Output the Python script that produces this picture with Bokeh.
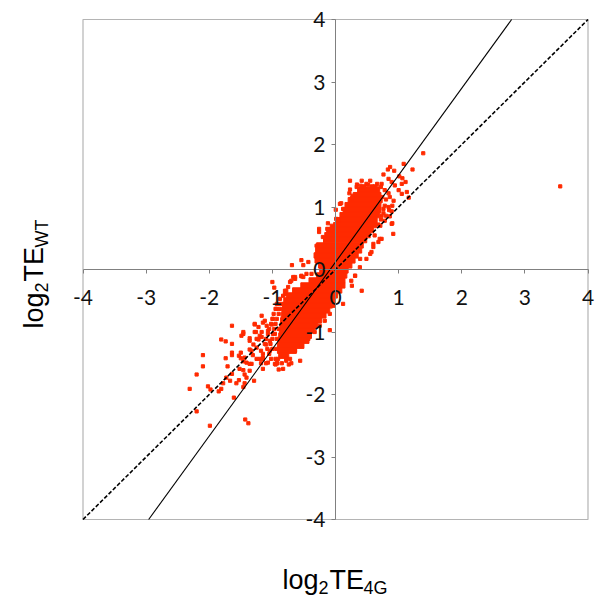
from bokeh.plotting import figure
from bokeh.models import Label, FixedTicker
from bokeh.embed import file_html
from bokeh.resources import INLINE
import math

tick_values = [-4, -3, -2, -1, 0, 1, 2, 3, 4]
tick_labels = ["-4", "-3", "-2", "-1", "0", "1", "2", "3", "4"]
fit_x = [-2.96, 2.79]
fit_y = [-4.0, 4.0]
unity_x = [-4.0, 4.0]
unity_y = [-4.0, 4.0]

# dense body of the cloud, one band per row: log2TE_WT, and its log2TE_4G extent
core_y = [1.27, 1.19, 1.11, 1.03, 0.95, 0.87, 0.79, 0.71, 0.63, 0.55, 0.47, 0.385,
          0.305, 0.225, 0.145, 0.065, -0.015, -0.095, -0.175, -0.255, -0.335,
          -0.415, -0.495, -0.575, -0.655, -0.735, -0.815, -0.895, -0.975, -1.06,
          -1.14, -1.22, -1.30, -1.38]
core_lo = [0.35, 0.28, 0.20, 0.15, 0.12, 0.07, 0.02, -0.03, -0.14, -0.17, -0.19, -0.30,
           -0.315, -0.34, -0.325, -0.27, -0.25, -0.30, -0.42, -0.55, -0.68,
           -0.78, -0.82, -0.84, -0.85, -0.86, -0.87, -0.88, -0.89, -0.90,
           -0.91, -0.92, -0.92, -0.90]
core_hi = [0.70, 0.72, 0.74, 0.72, 0.72, 0.70, 0.66, 0.65, 0.60, 0.55, 0.495, 0.44,
           0.415, 0.36, 0.31, 0.26, 0.20, 0.18, 0.15, 0.15, 0.10,
           0.03, -0.01, -0.05, -0.09, -0.15, -0.22, -0.28, -0.33, -0.38,
           -0.42, -0.50, -0.62, -0.74]

# individually readable points: log2TE_4G, log2TE_WT
point_x = [3.56, 1.39, 1.08, 1.22, 0.865, 0.93, 0.83, 0.76, 1.01, 1.06, 1.11, 1.05,
           0.23, 0.415, 0.55, 0.49, 0.335, 0.44, 0.23, 0.66, 0.73, 1.13, 1.16, 1.05,
           1.0, 0.94, 0.89, 0.84, 0.92, 0.84, 0.89, 0.76, 0.73, 0.90, 0.09, 0.27,
           0.12, 0.71, 0.70, 0.60, 0.55, 0.39, 0.415, 0.12, 0.26, 0.31, 0.01, -0.26,
           -0.26, -0.54, -0.69, -0.51, -0.43, -0.64, -0.54, -0.09,
           -1.00, -0.97, -1.17, -1.28, -1.15, -1.28, -1.2, -1.46, -1.33, -1.25, -1.33,
           -0.83, -0.91, -0.96, -0.78, -1.07, -0.99, -0.99, -1.04, -1.04, -1.15, -1.2,
           -1.36, -1.44, -0.93, -0.83, -0.78, -0.67, -0.51, -0.72, -0.80,
           -1.64, -1.81, -1.74, -1.64, -1.46, -1.49, -1.36, -2.10, -2.10, -2.20, -2.31,
           -2.20, -1.99, -1.74, -1.71, -1.64, -1.64, -1.50, -1.53, -1.50, -1.31, -1.46,
           -1.41, -1.36, -1.52, -1.46, -1.64, -1.73, -1.67, -1.78, -2.02, -1.98, -1.81,
           -1.85, -1.53, -1.57, -1.44, -1.41, -1.44, -1.46, -1.29, -1.61, -1.43, -1.38,
           -1.36, -1.15, -1.07, -0.93, -1.25, -1.28, -1.22, -1.17, -1.09, -1.01, -1.17,
           -1.26,
           -0.12, -0.13, -0.01, -0.06, 0.005, 0.07, 0.04, -0.20, -0.30, 0.62, 0.73, 0.68,
           0.60, 0.57, 0.49, 0.386, 0.31, 0.25, 0.89, 0.915,
           -0.56, -0.64, -0.54, -0.43, -0.33, -0.25, -0.17, -0.09, -0.03,
           -0.93, -0.88, -0.80, -0.75, -0.70, -0.64, -0.54, -0.46, -0.38,
           -1.12, -1.10, -1.18, -1.22, -1.30, -1.36, -0.95, -0.90, -0.74, -0.70,
           -0.90, -0.85, -0.95, -0.88, -0.98, -0.90, -1.00, -0.93, -1.02, -0.95, -1.05,
           -0.97, -0.90, -1.07, -0.96, -1.10, -1.00, -0.93, -1.12, -1.03, -1.08, -1.00,
           -0.94, -1.15, -1.05, -1.25, -1.15, -1.02, -0.95, -0.78, -0.72, -1.18, -1.10,
           -0.85, -0.92,
           0.78, 0.84, 0.74, 0.80, 0.86, 0.90, 0.78, 0.85, 0.76, 0.80, 0.86, 0.72, 0.78,
           0.68, 0.62, 0.58, 0.34, 0.40, 0.46, 0.52, 0.58, 0.66, 0.72, 0.22, 0.26]
point_y = [1.33, 1.86, 1.69, 1.60, 1.64, 1.58, 1.60, 1.52, 1.49, 1.46, 1.40, 1.37,
           1.42, 1.42, 1.42, 1.37, 1.32, 1.32, 1.28, 1.37, 1.37, 1.24, 1.15, 1.21,
           1.27, 1.345, 1.40, 1.45, 1.10, 1.0, 0.93, 0.97, 0.86, 0.74, 1.06, 1.18,
           0.97, 0.70, 0.49, 0.41, 0.25, 0.17, -0.34, -0.55, -0.26, -0.10, 0.81, 0.65,
           0.60, 0.15, 0.07, 0.07, 0.12, -0.12, -0.11, -0.97,
           -0.20, -0.29, -0.74, -0.87, -0.85, -1.0, -1.06, -1.03, -1.30, -1.25, -1.51,
           -1.59, -1.43, -1.51, -1.46, -0.98, -0.79, -1.03, -1.14, -1.30, -1.41, -1.43,
           -1.14, -1.41, -0.63, -0.42, -0.34, -0.12, -0.12, -0.20, -0.39,
           -0.90, -1.12, -1.15, -1.19, -1.00, -1.06, -1.10, -1.37, -1.55, -1.68, -1.91,
           -2.27, -2.50, -1.42, -1.55, -1.33, -1.37, -1.33, -1.38, -1.42, -1.37, -1.47,
           -1.49, -1.51, -1.59, -1.61, -1.67, -1.73, -1.78, -1.82, -1.87, -1.92, -1.91,
           -1.95, -1.77, -1.82, -1.68, -1.73, -1.82, -1.88, -1.78, -2.05, -2.40, -2.46,
           -1.62, -1.59, -1.49, -1.50, -1.11, -0.88, -0.92, -1.00, -0.90, -0.88, -1.08,
           -1.00,
           0.74, 0.65, 0.60, 0.70, 0.956, 1.05, 0.785, 0.52, 0.38, 0.545, 0.49, 0.44,
           0.36, 0.28, 0.17, 0.036, -0.10, -0.18, 0.73, 0.57,
           -1.46, -1.30, -1.22, -1.11, -1.0, -0.90, -0.82, -0.71, -0.58,
           -0.55, -0.47, -0.34, -0.28, -0.18, -0.15, -0.10, -0.07, -0.07,
           -0.82, -1.20, -1.30, -1.12, -1.20, -1.28, -1.52, -1.60, -1.52, -1.50,
           -0.55, -0.55, -0.63, -0.63, -0.71, -0.71, -0.79, -0.79, -0.87, -0.87, -0.95,
           -0.95, -0.95, -1.03, -1.03, -1.11, -1.11, -1.11, -1.19, -1.19, -1.27, -1.27,
           -1.27, -1.35, -1.35, -1.43, -1.43, -1.43, -1.43, -1.43, -1.43, -1.50, -1.50,
           -1.50, -1.50,
           1.27, 1.22, 1.16, 1.12, 1.16, 1.02, 1.02, 0.95, 0.90, 0.86, 0.85, 0.80, 0.78,
           0.72, 1.33, 1.30, 1.36, 1.34, 1.33, 1.35, 1.33, 1.30, 1.32, 1.22, 1.14]

RED = "#ff2a00"
GREY = "#b4b4b4"
WIDTH, HEIGHT = 600, 597
PX_X, PX_Y = 63.125, 62.5   # pixels per data unit
X0, Y0 = 335.0, 269.0       # pixel position of the origin

# The plotting frame fills the whole canvas so nothing gets clipped; axes are bounded to +-4.
p = figure(width=WIDTH, height=HEIGHT, output_backend="svg", toolbar_location=None,
           x_range=(-X0 / PX_X, (WIDTH - X0) / PX_X),
           y_range=((Y0 - HEIGHT) / PX_Y, Y0 / PX_Y),
           min_border=0, min_border_left=0, min_border_right=0,
           min_border_top=0, min_border_bottom=0,
           background_fill_color="white", border_fill_color="white")
p.grid.visible = False
p.outline_line_color = None

p.quad(left=[tick_values[0]], right=[tick_values[-1]],
       bottom=[tick_values[0]], top=[tick_values[-1]],
       fill_color=None, line_color=GREY, line_width=1.2)
p.hbar(y=core_y, left=core_lo, right=core_hi, height=0.085, color=RED)
p.scatter(point_x, point_y, marker="square", size=3.2, color=RED)
p.line(fit_x, fit_y, line_color="black", line_width=1.1)
p.line(unity_x, unity_y, line_color="black", line_width=1.6, line_dash="4 2")

for ax, standoff in ((p.xaxis[0], 16), (p.yaxis[0], 6)):
    ax.fixed_location = 0
    ax.bounds = (tick_values[0], tick_values[-1])
    ax.ticker = FixedTicker(ticks=tick_values)
    ax.major_label_overrides = dict(zip(tick_values, tick_labels))
    ax.axis_line_color = "#808080"
    ax.major_tick_line_color = "#808080"
    ax.minor_tick_line_color = None
    ax.major_tick_in = 0
    ax.major_tick_out = 4
    ax.major_label_text_font = "Lato"
    ax.major_label_text_font_size = "21px"
    ax.major_label_text_color = "#111111"
    ax.major_label_standoff = standoff
p.yaxis[0].major_label_orientation = "horizontal"


def add(text, px, py, size, angle=0.0):
    p.add_layout(Label(x=(px - X0) / PX_X, y=(Y0 - py) / PX_Y, text=text,
                       text_font="Liberation Sans", text_font_size=size,
                       text_color="black", angle=angle,
                       text_align="left", text_baseline="alphabetic"))


add("log", 282, 579, "27px")
add("2", 318, 587, "18px")
add("TE", 329, 579, "27px")
add("4G", 363, 587, "18px")

up = math.pi / 2
add("log", 33, 328, "27px", up)
add("2", 41, 292, "18px", up)
add("TE", 33, 281, "27px", up)
add("WT", 41, 247, "18px", up)

open("out.html", "w").write(file_html(p, INLINE))
